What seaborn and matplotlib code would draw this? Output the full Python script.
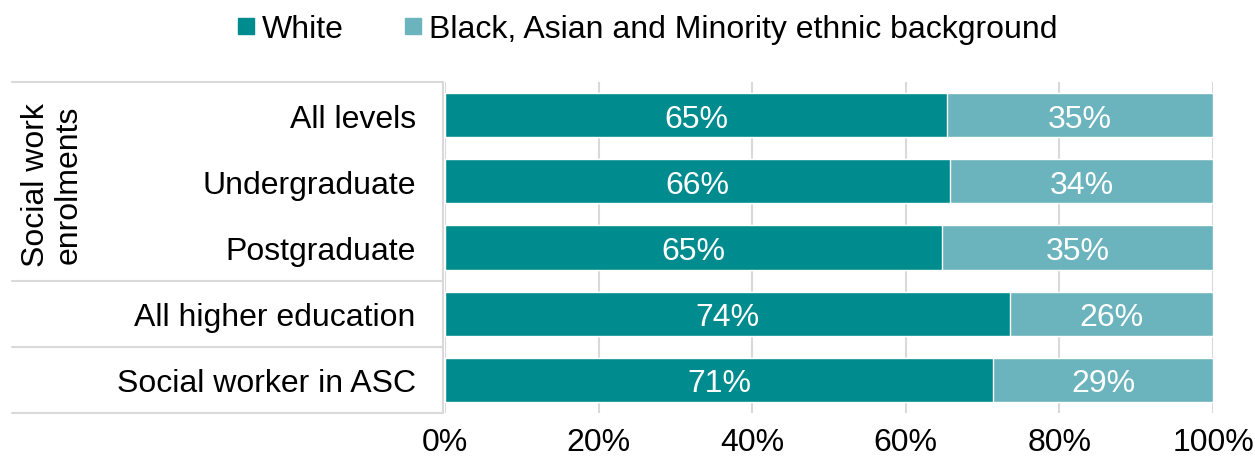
import pandas as pd
import matplotlib.pyplot as plt
import seaborn as sns
from matplotlib.lines import Line2D

# data
categories = ['All levels', 'Undergraduate', 'Postgraduate',
              'All higher education', 'Social worker in ASC']
white = [65.4, 65.8, 64.7, 73.6, 71.4]
white_labels = ['65%', '66%', '65%', '74%', '71%']
bame_labels = ['35%', '34%', '35%', '26%', '29%']
series_names = ['White', 'Black, Asian and Minority ethnic background']
ticks = [0, 20, 40, 60, 80, 100]

dark = '#008B8F'
light = '#6BB4BD'
fs = 23

sns.set_style('white')
plt.rcParams['font.family'] = ['Liberation Sans', 'DejaVu Sans']
plt.rcParams['text.color'] = 'black'
plt.rcParams['xtick.color'] = 'black'
plt.rcParams['ytick.color'] = 'black'

df = pd.DataFrame({'category': categories, 'white': white, 'total': [100] * len(categories)})

fig = plt.figure(figsize=(12.55, 4.64), dpi=100)
ax = fig.add_axes([0.3546, 0.1078, 0.6120, 0.7133])

# full bar for the second group, white share drawn over it
sns.barplot(data=df, x='total', y='category', orient='h', color=light,
            width=0.67, saturation=1, ax=ax, zorder=2)
sns.barplot(data=df, x='white', y='category', orient='h', color=dark,
            width=0.67, saturation=1, ax=ax, zorder=3)

for i, (w, wl, bl) in enumerate(zip(white, white_labels, bame_labels)):
    ax.text(w / 2, i, wl, ha='center', va='center_baseline', color='white', fontsize=fs, zorder=4)
    ax.text(w + (100 - w) / 2, i, bl, ha='center', va='center_baseline', color='white',
            fontsize=fs, zorder=4)

ax.set_xlim(0, 100)
ax.set_ylim(len(categories) - 0.5, -0.5)
ax.set_xticks(ticks)
ax.set_xticklabels([f'{t}%' for t in ticks])
ax.set_xlabel('')
ax.set_ylabel('')
ax.grid(axis='x', color='#d9d9d9', linewidth=1.5, zorder=0)
ax.tick_params(axis='x', length=0, pad=10, labelsize=fs)
ax.tick_params(axis='y', length=0, pad=21, labelsize=fs)
for s in ax.spines.values():
    s.set_visible(False)

# table-style lines around the category labels
grey = '#d9d9d9'
x0, x1 = 12 / 1255, 443 / 1255
for ypx in [83, 282, 348, 414]:
    y = 1 - ypx / 464
    fig.add_artist(Line2D([x0, x1], [y, y], color=grey, linewidth=1.5))
fig.add_artist(Line2D([x1, x1], [1 - 83 / 464, 1 - 414 / 464], color=grey, linewidth=1.5))

fig.text(52 / 1255, 1 - 185 / 464, 'Social work\nenrolments', rotation=90,
         ha='center', va='center', fontsize=fs, linespacing=1.1)

# legend
handles = [plt.Line2D([], [], marker='s', linestyle='', markersize=12, color=c)
           for c in [dark, light]]
fig.legend(handles, series_names, loc='upper center', bbox_to_anchor=(0.513, 1.03),
           ncol=2, frameon=False, fontsize=fs, handletextpad=0.0,
           columnspacing=1.66, handlelength=1.0)

fig.savefig('out.png', dpi=100)
